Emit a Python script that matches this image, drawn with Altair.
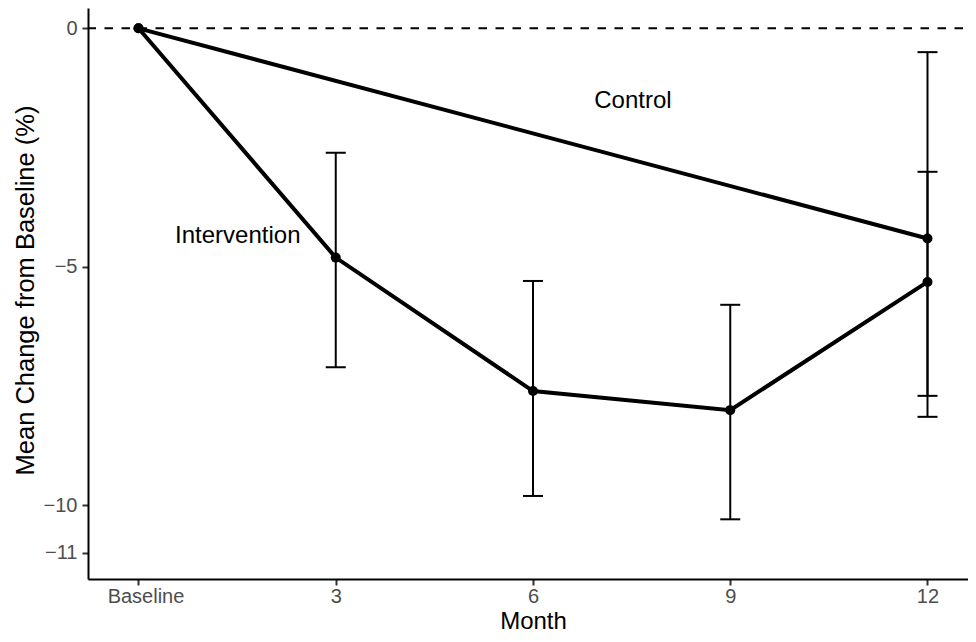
import altair as alt
import pandas as pd

# ---- data ----
months = [0, 3, 6, 9, 12]
int_mean = [0.0, -4.81, -7.61, -8.01, -5.32]
int_lower = [None, -7.11, -9.81, -10.30, -7.71]
int_upper = [None, -2.61, -5.30, -5.80, -3.01]

ctrl_months = [0, 12]
ctrl_mean = [0.0, -4.41]
ctrl_lower = [None, -8.15]
ctrl_upper = [None, -0.50]

label_text = ["Control", "Intervention"]
label_month = [7.52, 1.51]
label_val = [-1.515, -4.357]

x_ticks = [0, 3, 6, 9, 12]
y_ticks = [0, -5, -10, -11]

rows = []
for m, v, lo, hi in zip(months, int_mean, int_lower, int_upper):
    rows.append({"group": "Intervention", "month": m, "val": v, "lower": lo, "upper": hi})
for m, v, lo, hi in zip(ctrl_months, ctrl_mean, ctrl_lower, ctrl_upper):
    rows.append({"group": "Control", "month": m, "val": v, "lower": lo, "upper": hi})
df = pd.DataFrame(rows)
err = df.dropna(subset=["lower", "upper"])
labels = pd.DataFrame({"label": label_text, "month": label_month, "val": label_val})
zero = pd.DataFrame({"val": [0.0]})

FONT = "Liberation Sans"
xs = alt.Scale(domain=[-0.768, 12.616], nice=False, zero=False)
ys = alt.Scale(domain=[-11.552, 0.426], nice=False, zero=False)

xaxis = alt.Axis(
    values=x_ticks,
    labelExpr="datum.value == 0 ? 'Baseline' : datum.label",
    labelOffset={"condition": {"test": "datum.value == 0", "value": 7}, "value": 0},
    title="Month", grid=False,
    domainColor="black", domainWidth=2,
    tickColor="#333333", tickWidth=2, tickSize=6,
    labelColor="#4d4d4d", labelFont=FONT, labelFontSize=20,
    labelPadding=17, labelBaseline="alphabetic",
    titleFont=FONT, titleFontSize=24, titleFontWeight="normal", titleColor="black",
    titleX=445, titleY=49, titleBaseline="alphabetic", titleAlign="center",
)
yaxis = alt.Axis(
    values=y_ticks, format="d",
    title="Mean Change from Baseline (%)", grid=False,
    domainColor="black", domainWidth=2,
    tickColor="#333333", tickWidth=2, tickSize=6,
    labelColor="#4d4d4d", labelFont=FONT, labelFontSize=20,
    labelPadding=5, labelBaseline="middle", labelAlign="right",
    titleFont=FONT, titleFontSize=25.5, titleFontWeight="normal", titleColor="black",
    titleX=-55, titleY=282, titleAngle=-90, titleBaseline="alphabetic", titleAlign="center",
)

X = alt.X("month:Q", scale=xs, axis=xaxis)
Y = alt.Y("val:Q", scale=ys, axis=yaxis)

zero_rule = alt.Chart(zero).mark_rule(
    color="black", strokeWidth=2, strokeDash=[8.5, 8.5], strokeDashOffset=12
).encode(y=Y)

lines = alt.Chart(df).mark_line(color="black", strokeWidth=4).encode(
    x=X, y=Y, detail="group:N", order="month:Q"
)
points = alt.Chart(df).mark_point(filled=True, color="black", opacity=1, size=100).encode(x=X, y=Y)

err_rule = alt.Chart(err).mark_rule(color="black", strokeWidth=2).encode(
    x=X, y=alt.Y("lower:Q", scale=ys, axis=yaxis), y2="upper:Q"
)
cap_lo = alt.Chart(err).mark_tick(orient="horizontal", color="black", size=20, thickness=2, opacity=1).encode(
    x=X, y=alt.Y("lower:Q", scale=ys, axis=yaxis)
)
cap_hi = alt.Chart(err).mark_tick(orient="horizontal", color="black", size=20, thickness=2, opacity=1).encode(
    x=X, y=alt.Y("upper:Q", scale=ys, axis=yaxis)
)

texts = alt.Chart(labels).mark_text(
    font=FONT, fontSize=24, color="black", align="center", baseline="middle"
).encode(x=X, y=Y, text="label:N")

chart = alt.layer(zero_rule, err_rule, cap_lo, cap_hi, lines, points, texts).properties(
    width=880, height=571,
    background="white",
    autosize=alt.AutoSizeParams(type="none"),
    padding={"left": 80, "top": 0, "right": 0, "bottom": 55},
).configure_view(stroke=None)

chart.save("out.html", embed_options={"renderer": "svg", "actions": False})
